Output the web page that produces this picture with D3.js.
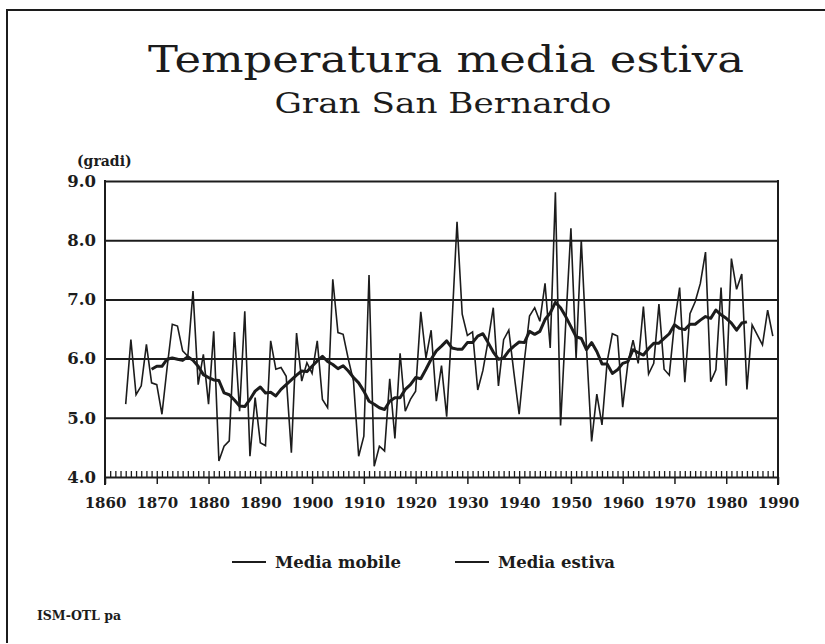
<!DOCTYPE html>
<html>
<head>
<meta charset="utf-8">
<script src="https://cdn.jsdelivr.net/npm/d3@7"></script>
<style>
  body { margin: 0; background: white; }
  svg { display: block; }
</style>
</head>
<body>
<svg id="chart" width="825" height="644"></svg>
<script>

// Media estiva, one value per summer 1864..1989
const estivaYears = d3.range(1864, 1990);
const estivaValues = [
  5.23, 6.32, 5.39, 5.54, 6.24, 5.59, 5.56, 5.06, 5.85, 6.58,
  6.55, 6.13, 6.04, 7.14, 5.56, 6.07, 5.23, 6.46, 4.27, 4.52,
  4.61, 6.45, 5.11, 6.80, 4.35, 5.34, 4.58, 4.53, 6.30, 5.82,
  5.85, 5.70, 4.41, 6.43, 5.62, 5.93, 5.75, 6.30, 5.31, 5.17,
  7.34, 6.44, 6.41, 5.99, 5.62, 4.35, 4.69, 7.41, 4.18, 4.52,
  4.44, 5.66, 4.65, 6.09, 5.11, 5.31, 5.45, 6.79, 6.01, 6.48,
  5.28, 5.88, 5.02, 6.55, 8.31, 6.75, 6.39, 6.45, 5.47, 5.80,
  6.30, 6.86, 5.54, 6.32, 6.48, 5.75, 5.06, 5.96, 6.72, 6.86,
  6.63, 7.27, 6.18, 8.81, 4.87, 6.60, 8.20, 6.00, 8.00, 6.20,
  4.60, 5.40, 4.88, 5.95, 6.42, 6.38, 5.18, 5.92, 6.31, 5.92,
  6.88, 5.74, 5.92, 6.92, 5.82, 5.72, 6.60, 7.20, 5.60, 6.76,
  6.96, 7.27, 7.80, 5.61, 5.81, 7.20, 5.54, 7.69, 7.17, 7.43,
  5.48, 6.57, 6.40, 6.23, 6.82, 6.38
];

// Media mobile, 1869..1984
const mobileYears = d3.range(1869, 1985);
const mobileValues = [
  5.82, 5.87, 5.87, 5.99, 6.01, 5.99, 5.97, 6.03, 5.97, 5.87,
  5.73, 5.68, 5.64, 5.63, 5.42, 5.39, 5.30, 5.20, 5.19, 5.31,
  5.45, 5.52, 5.42, 5.43, 5.37, 5.48, 5.56, 5.64, 5.72, 5.79,
  5.78, 5.87, 5.96, 6.04, 5.95, 5.90, 5.83, 5.88, 5.79, 5.68,
  5.59, 5.45, 5.28, 5.23, 5.17, 5.14, 5.28, 5.34, 5.34, 5.48,
  5.56, 5.68, 5.66, 5.82, 5.99, 6.13, 6.21, 6.30, 6.18, 6.16,
  6.16, 6.27, 6.27, 6.38, 6.42, 6.27, 6.11, 5.99, 6.01, 6.13,
  6.21, 6.28, 6.27, 6.46, 6.41, 6.46, 6.66, 6.77, 6.95, 6.86,
  6.71, 6.54, 6.37, 6.34, 6.15, 6.27, 6.12, 5.91, 5.91, 5.75,
  5.81, 5.92, 5.95, 6.15, 6.10, 6.06, 6.17, 6.26, 6.26, 6.34,
  6.42, 6.57, 6.51, 6.49, 6.58, 6.58, 6.65, 6.71, 6.68, 6.82,
  6.74, 6.68, 6.60, 6.48, 6.60, 6.62
];

const yTicks = [4, 5, 6, 7, 8, 9];
const xDecades = d3.range(1860, 1991, 10);
const legendKeys = ["Media mobile", "Media estiva"];

let svg = d3.select('#chart'),
  margin = {top: 181, right: 47, bottom: 167, left: 105},
  width = 825, height = 644,
  ink = '#1c1c1c',
  labelFont = "'DejaVu Serif', serif";

// outer frame (right edge runs off the page)
svg.append('path')
    .attr('d', 'M7,643 L7,10 L830,10')
    .attr('fill', 'none')
    .attr('stroke', ink)
    .attr('stroke-width', 2);

// titles
svg.append('text')
    .attr('x', 446)
    .attr('y', 72)
    .attr('text-anchor', 'middle')
    .attr('font-family', labelFont)
    .attr('font-size', 38)
    .attr('textLength', 596)
    .attr('lengthAdjust', 'spacingAndGlyphs')
    .attr('fill', ink)
    .text('Temperatura media estiva');

svg.append('text')
    .attr('x', 443)
    .attr('y', 113)
    .attr('text-anchor', 'middle')
    .attr('font-family', labelFont)
    .attr('font-size', 28)
    .attr('textLength', 337)
    .attr('lengthAdjust', 'spacingAndGlyphs')
    .attr('fill', ink)
    .text('Gran San Bernardo');

svg.append('text')
    .attr('x', 77)
    .attr('y', 166)
    .attr('font-family', labelFont)
    .attr('font-weight', 'bold')
    .attr('font-size', 14)
    .attr('fill', ink)
    .text('(gradi)');

// scales
var x = d3.scaleLinear()
    .domain([1860, 1990])
    .range([margin.left, width - margin.right]);

var y = d3.scaleLinear()
    .domain([4, 9])
    .range([height - margin.bottom, margin.top]);

let plotW = x(1990) - x(1860), baseY = y(4);

// horizontal gridlines + y labels
var gY = svg.append('g')
    .attr('transform', 'translate(' + margin.left + ',0)')
    .call(d3.axisLeft(y).tickValues(yTicks).tickSize(-plotW).tickPadding(9)
      .tickFormat(d3.format('.1f')).tickSizeOuter(0));
gY.select('.domain').remove();
gY.selectAll('line').attr('stroke', ink).attr('stroke-width', 2);
gY.selectAll('text')
    .attr('font-family', labelFont)
    .attr('font-weight', 'bold')
    .attr('font-size', 16.5)
    .attr('fill', ink);

// vertical frame sides, running a bit below the baseline
svg.append('g').selectAll('line')
    .data([1860, 1990])
    .enter()
    .append('line')
      .attr('x1', d => x(d)).attr('x2', d => x(d))
      .attr('y1', y(9) - 1).attr('y2', baseY + 8)
      .attr('stroke', ink).attr('stroke-width', 2);

// yearly minor ticks pointing up
var gMinor = svg.append('g')
    .attr('transform', 'translate(0,' + baseY + ')')
    .call(d3.axisBottom(x).tickValues(d3.range(1861, 1990)).tickSize(-6).tickFormat('').tickSizeOuter(0));
gMinor.select('.domain').remove();
gMinor.selectAll('line').attr('stroke', ink).attr('stroke-width', 1.3);

// decade ticks pointing down + labels
var gX = svg.append('g')
    .attr('transform', 'translate(0,' + baseY + ')')
    .call(d3.axisBottom(x).tickValues(xDecades).tickSize(7).tickPadding(13)
      .tickFormat(d3.format('d')).tickSizeOuter(0));
gX.select('.domain').remove();
gX.selectAll('line').attr('stroke', ink).attr('stroke-width', 1.5);
gX.selectAll('text')
    .attr('font-family', labelFont)
    .attr('font-weight', 'bold')
    .attr('font-size', 15)
    .attr('fill', ink);

// series lines
var estiva = estivaYears.map((d, i) => ({year: d, v: estivaValues[i]}));
var mobile = mobileYears.map((d, i) => ({year: d, v: mobileValues[i]}));

var line = d3.line()
    .x(d => x(d.year))
    .y(d => y(d.v));

svg.append('path')
    .datum(estiva)
    .attr('d', line)
    .attr('fill', 'none')
    .attr('stroke', ink)
    .attr('stroke-width', 1.6)
    .attr('stroke-linejoin', 'miter');

svg.append('path')
    .datum(mobile)
    .attr('d', line)
    .attr('fill', 'none')
    .attr('stroke', ink)
    .attr('stroke-width', 3)
    .attr('stroke-linejoin', 'round');

// legend
var legendX = [232, 455];
var legend = svg.selectAll('.legend')
    .data(legendKeys)
    .enter()
    .append('g')
      .attr('class', 'legend')
      .attr('transform', (d, i) => 'translate(' + legendX[i] + ',562)');

legend.append('line')
    .attr('x1', 0).attr('x2', 34)
    .attr('stroke', ink)
    .attr('stroke-width', 2);

legend.append('text')
    .attr('x', 43)
    .attr('y', 6)
    .attr('font-family', labelFont)
    .attr('font-weight', 'bold')
    .attr('font-size', 16.5)
    .attr('fill', ink)
    .text(d => d);

svg.append('text')
    .attr('x', 37)
    .attr('y', 620)
    .attr('font-family', labelFont)
    .attr('font-weight', 'bold')
    .attr('font-size', 12.5)
    .attr('fill', ink)
    .text('ISM-OTL pa');

</script>
</body>
</html>
